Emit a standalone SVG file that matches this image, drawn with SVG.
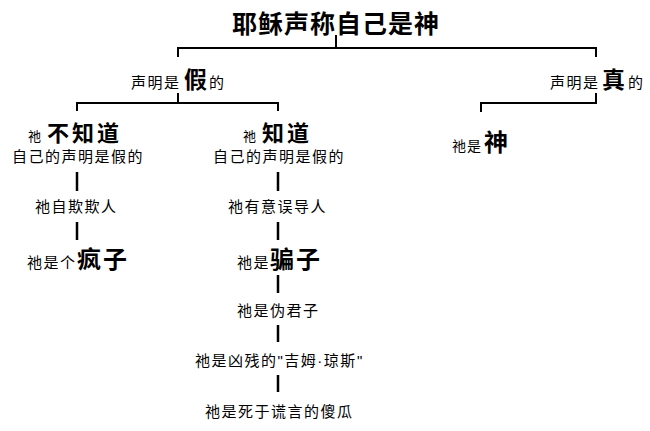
<svg xmlns="http://www.w3.org/2000/svg" width="650" height="431" viewBox="0 0 650 431">
<style>
text{font-family:"Noto Sans CJK SC","Noto Sans CJK TC",sans-serif;fill:#000}
.s{font-size:15px;letter-spacing:1.5px}
.xs{font-size:13px}
.b{font-size:24px;font-weight:bold;letter-spacing:2px}
.m{font-size:23px;font-weight:bold}
.l{font-family:"Liberation Sans",sans-serif}
.c{stroke:#000;stroke-width:2;fill:none}
.v{stroke:#000;stroke-width:2.5;fill:none}
</style>
<rect width="650" height="431" fill="#fff"/>
<g id="connectors">
<polyline class="c" points="336,35 336,48"/>
<polyline class="c" points="178,57 178,48 596,48 596,57"/>
<polyline class="c" points="178,93 178,103"/>
<polyline class="c" points="77,111 77,103 278,103 278,111"/>
<polyline class="c" points="596,93 596,103 481,103 481,112"/>
<line class="v" x1="77" y1="172" x2="77" y2="191"/>
<line class="v" x1="77" y1="222" x2="77" y2="240"/>
<line class="v" x1="278" y1="172" x2="278" y2="191"/>
<line class="v" x1="278" y1="222" x2="278" y2="240"/>
<line class="v" x1="278" y1="275" x2="278" y2="293"/>
<line class="v" x1="278" y1="325" x2="278" y2="342"/>
<line class="v" x1="278" y1="375" x2="278" y2="392"/>
</g>
<g id="title"><text x="232" y="33" style="font-size:25px;font-weight:bold;letter-spacing:1px">耶稣声称自己是神</text></g>
<g id="false"><text y="88"><tspan class="s" x="131">声明是</tspan><tspan class="m" x="184">假</tspan><tspan class="s" x="209">的</tspan></text></g>
<g id="true"><text y="88"><tspan class="s" x="550">声明是</tspan><tspan class="m" x="602">真</tspan><tspan class="s" x="628">的</tspan></text></g>
<g id="notknow"><text y="141"><tspan class="xs" x="28">祂</tspan><tspan x="47" style="font-size:22px;font-weight:bold;letter-spacing:3px">不知道</tspan></text>
<text class="s" x="12" y="162">自己的声明是假的</text></g>
<g id="selfdeceive"><text class="s" x="35" y="212">祂自欺欺人</text></g>
<g id="lunatic"><text y="268"><tspan class="s" x="27">祂是个</tspan><tspan class="b" x="77">疯子</tspan></text></g>
<g id="know"><text y="141"><tspan class="xs" x="243">祂</tspan><tspan x="262" style="font-size:22px;font-weight:bold;letter-spacing:3px">知道</tspan></text>
<text class="s" x="213" y="162">自己的声明是假的</text></g>
<g id="mislead"><text class="s" x="228" y="212">祂有意误导人</text></g>
<g id="liar"><text y="268"><tspan class="s" x="237">祂是</tspan><tspan class="b" x="270">骗子</tspan></text></g>
<g id="hypocrite"><text class="s" x="237" y="316">祂是伪君子</text></g>
<g id="jones"><text class="s" x="195" y="366">祂是凶残的<tspan class="l">"</tspan>吉姆<tspan class="l">·</tspan>琼斯<tspan class="l">"</tspan></text></g>
<g id="fool"><text class="s" x="205" y="417">祂是死于谎言的傻瓜</text></g>
<g id="god"><text y="151"><tspan x="452" style="font-size:14px;letter-spacing:1px">祂是</tspan><tspan x="484" style="font-size:24px;font-weight:bold">神</tspan></text></g>
</svg>
